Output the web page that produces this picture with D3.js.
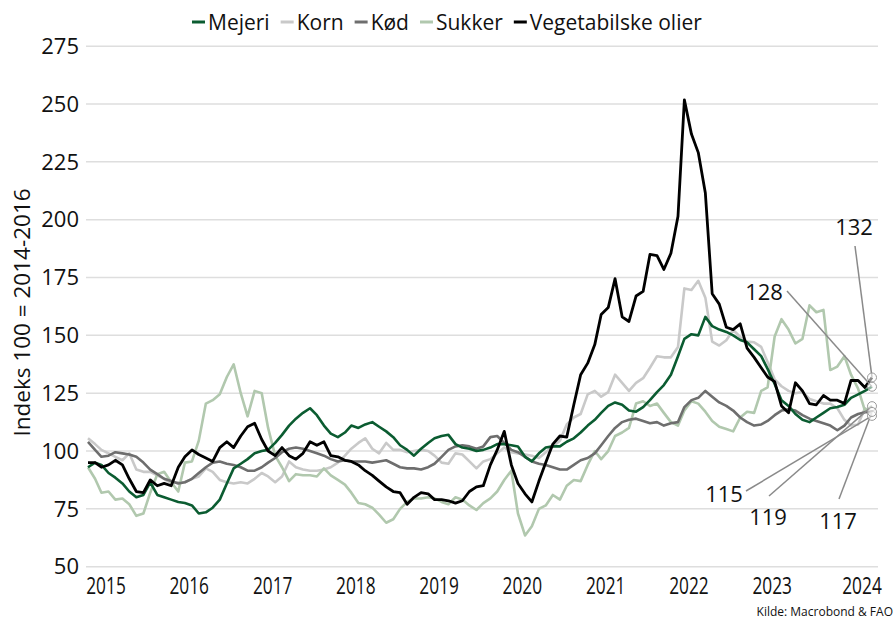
<!DOCTYPE html>
<html>
<head>
<meta charset="utf-8">
<script src="https://cdn.jsdelivr.net/npm/d3@7"></script>
<style>
  body { margin: 0; background: #fff; }
  svg text { font-family: "Open Sans", "Noto Sans", sans-serif; fill: #111; }
</style>
</head>
<body>
<div id="chart"></div>
<script>
// monthly FAO sub-indices, Jan 2015 - Jun 2024 (2014-2016 = 100)
var firstMonth = [2015, 0];
var seriesNames = ["Mejeri", "Korn", "Kød", "Sukker", "Vegetabilske olier"];

var mejeri = [
  93, 95, 94, 90.5, 88.5, 86, 82.5, 80, 81, 86.5, 81, 80,
  79, 78, 77.5, 76.5, 73, 73.5, 75.5, 79, 86, 92.5, 94.5, 96.5,
  99, 100, 100.5, 103.5, 107, 111, 114, 116.5, 118.5, 115.5, 111, 107.5,
  106, 108, 111, 110, 111.5, 112.5, 110.5, 108.5, 106, 102.5, 100.5, 98,
  101, 103.5, 105.5, 106.5, 107, 103, 101.5, 101, 100, 100.5, 101.5, 103,
  103, 102.5, 102, 97.5, 95.5, 99, 101.5, 102, 102, 104, 105.5, 108,
  111, 113.5, 116.5, 119.5, 121, 120, 117.5, 117, 119, 122, 125.5, 128.5,
  133, 141, 148.5, 150.5, 150, 158, 154, 152.5, 151.5, 150, 148, 147,
  144, 141, 135.5, 129, 122, 119.5, 116, 113.5, 112.5, 114.5, 116.5, 118.5,
  119, 120, 123, 124.5, 126, 127.8
];
var korn = [
  105.5, 103, 100.5, 99, 97.5, 96, 99, 92, 91, 91, 89.5, 88,
  86, 86.5, 86.5, 88, 89, 92.5, 91, 87.5, 86.5, 86, 86.5, 86,
  88, 90.5, 89, 86.5, 89, 95.5, 93, 92, 91.5, 91.5, 92, 93,
  95, 98, 101, 103.5, 105.5, 101, 99, 103.5, 100.5, 100.5, 99.5, 100,
  100.5, 100, 98, 95, 94.5, 99, 98.5, 95.5, 92.5, 95.5, 96.5, 99,
  101.5, 99.5, 99, 98.5, 98, 97, 99.5, 102, 104.5, 111.5, 114.5, 116,
  124.5, 126, 123.5, 125.5, 133, 129.5, 126, 129.5, 131.5, 136, 141, 140.5,
  140.5, 145, 170.3, 169.6, 173.6, 166.3, 147.3, 145.6, 147.9, 152.3, 149.3, 147.3,
  147, 145, 138.5, 131, 128, 126, 125, 125.5, 122.5, 121.5, 120.5, 120.5,
  118.5, 113.5, 111, 111.5, 118.5, 115.2
];
var kod = [
  104, 100.5, 97.5, 98, 99.5, 99, 98.5, 97.5, 95, 92, 90, 88,
  87, 86, 86.5, 88, 90.5, 93, 95, 95.5, 94.5, 94, 93, 91.5,
  91.5, 93, 95, 97, 99.5, 101, 101.5, 101, 100, 99, 98, 96.5,
  95.5, 96, 95.5, 95.5, 95.5, 95, 95.5, 96, 94.5, 93, 92.5, 92.5,
  92, 93, 94.5, 97.5, 100.5, 102, 102.5, 102, 101, 102, 106, 106.5,
  103.5, 100.5, 99.5, 97.5, 95.5, 94.5, 94, 93, 92, 92, 94, 96,
  97, 99, 102.5, 106.5, 110, 112.5, 113.5, 114, 113, 112, 112.5, 111,
  112, 112.5, 119, 122, 123, 126, 123.5, 121, 119.5, 117.5, 114.5, 112.5,
  111, 111.5, 113, 115.5, 117.5, 118, 117.5, 115.5, 114, 113, 112, 111,
  109, 111, 114.5, 116, 116.8, 116.9
];
var sukker = [
  93, 88, 82, 82.5, 79, 79.5, 77, 72, 73, 82, 90, 91,
  86.5, 82.5, 95, 95.5, 104.5, 120.5, 122, 124.5, 132, 137.5, 125, 115,
  126, 125, 110, 98, 93, 87, 90, 89.5, 89.5, 89, 92.5, 89.5,
  87.5, 85.5, 82, 77.5, 77, 75.5, 72.5, 69, 70.5, 75, 78, 79.5,
  79.5, 80, 79.5, 78, 77, 80, 79, 76.5, 74.5, 77.5, 79.5, 82.5,
  87.5, 91.5, 73, 63.5, 67.5, 75, 76.5, 81, 79, 85, 87.5, 87,
  94, 100, 96.5, 100, 106.5, 108, 110, 120.5, 121.5, 119.5, 120.5, 116.5,
  112.5, 111, 117.5, 121.5, 120.5, 117, 113, 110.5, 109.5, 108.5, 114.5, 117,
  116.5, 126, 127.5, 149.5, 157, 152.5, 146.5, 148.5, 163, 160, 161, 135,
  136.5, 141, 133, 127, 117.5, 119.4
];
var olie = [
  95, 95, 93, 94, 96, 94, 88, 82.5, 82, 87.5, 85, 86,
  85, 93, 97.5, 100.5, 98.5, 97, 95.5, 101.5, 104, 101.5, 106.5, 110.5,
  112, 105, 100, 98, 101.5, 98, 96.5, 99, 104, 102.5, 104, 98,
  97.5, 96, 95.5, 94, 91.5, 89.5, 87, 84.5, 82.5, 82, 77, 80,
  82, 81.5, 79, 79, 78.5, 77.5, 78.5, 82.5, 84.5, 85, 94, 100.5,
  108.5, 94, 86, 81.5, 78, 87, 95, 103, 106.5, 106, 120, 133,
  138, 146, 159, 162, 174.5, 158, 156, 167, 169, 185, 184.5, 178.5,
  185.5, 201.5, 251.8, 237, 229, 211.5, 168, 163.5, 153.5, 152.5, 155, 144.5,
  140.5, 136, 132, 130, 119.5, 116.5, 129.5, 126, 120.5, 120, 124, 122,
  122, 120.5, 130.5, 130.5, 127.5, 131.8
];

var yTicks = [50, 75, 100, 125, 150, 175, 200, 225, 250, 275];
var yTitle = "Indeks 100 = 2014-2016";
var source = "Kilde: Macrobond & FAO";

var colors = ["#0b5c31", "#c9c9c9", "#6e6e6e", "#b1c8ae", "#000000"];
var values = [mejeri, korn, kod, sukker, olie];

var width = 896, height = 620;
var months = values[0].map(function(d, i) {
  return new Date(Date.UTC(firstMonth[0], firstMonth[1] + i, 1));
});

var x = d3.scaleUtc()
    .domain(d3.extent(months))
    .range([88, 872]);
var y = d3.scaleLinear()
    .domain([50, 275])
    .range([566.7, 46.2]);

var svg = d3.select("#chart").append("svg")
    .attr("width", width)
    .attr("height", height);

// gridlines + y labels
var yAxis = svg.append("g").classed("yAxis", true);
yAxis.selectAll("line").data(yTicks).join("line")
    .attr("x1", 86).attr("x2", 878)
    .attr("y1", function(d) { return y(d); })
    .attr("y2", function(d) { return y(d); })
    .attr("stroke", "#dedede")
    .attr("stroke-width", 1.5);
yAxis.selectAll("text").data(yTicks).join("text")
    .attr("x", 79)
    .attr("y", function(d) { return y(d); })
    .attr("dy", "0.35em")
    .attr("text-anchor", "end")
    .style("font-size", "22px")
    .text(function(d) { return d; });

svg.append("text")
    .attr("transform", "translate(30," + ((y(50) + y(275)) / 2 + 6) + ") rotate(-90)")
    .attr("text-anchor", "middle")
    .style("font-size", "22.5px")
    .text(yTitle);

// year labels (narrow), centred just after each new year; a part year sits at the right edge
var start = x.domain()[0], end = x.domain()[1];
var years = d3.range(start.getUTCFullYear(), end.getUTCFullYear() + 1);
svg.append("g").selectAll("text").data(years).join("text")
    .attr("transform", function(yr) {
      var full = Date.UTC(yr, 11, 1) <= +end;
      var cx = full ? x(new Date(Date.UTC(yr, 0, 1))) + 18 : x(end) - 10;
      return "translate(" + cx + ",594) scale(0.72,1)";
    })
    .attr("text-anchor", "middle")
    .style("font-size", "24px")
    .text(function(d) { return d; });

// series
var line = d3.line()
    .x(function(d, i) { return x(months[i]); })
    .y(function(d) { return y(d); });

var drawOrder = [1, 3, 2, 0, 4];
svg.append("g").selectAll("path").data(drawOrder).join("path")
    .attr("d", function(k) { return line(values[k]); })
    .attr("fill", "none")
    .attr("stroke", function(k) { return colors[k]; })
    .attr("stroke-width", function(k) { return k == 4 ? 2.8 : 2.6; })
    .attr("stroke-linejoin", "round");

// legend
var legend = svg.append("g");
var lx = 192;
seriesNames.forEach(function(name, i) {
  legend.append("line")
      .attr("x1", lx).attr("x2", lx + 13)
      .attr("y1", 22).attr("y2", 22)
      .attr("stroke", colors[i])
      .attr("stroke-width", 3);
  var t = legend.append("text")
      .attr("x", lx + 16)
      .attr("y", 30)
      .style("font-size", "21px")
      .text(name);
  lx += 16 + t.node().getComputedTextLength() + 11;
});

// end-value callouts
var callouts = [
  {k: 4, tx: 854, ty: 235, sx: 855, sy: 246},
  {k: 0, tx: 764, ty: 300, sx: 787, sy: 291},
  {k: 1, tx: 724, ty: 502, sx: 746, sy: 491},
  {k: 3, tx: 768, ty: 525, sx: 769, sy: 496},
  {k: 2, tx: 838, ty: 529, sx: 839, sy: 499}
];
var last = months.length - 1;
var ann = svg.append("g");
ann.selectAll("line").data(callouts).join("line")
    .attr("x1", function(d) { return d.sx; })
    .attr("y1", function(d) { return d.sy; })
    .attr("x2", x(months[last]))
    .attr("y2", function(d) { return y(values[d.k][last]); })
    .attr("stroke", "#8a8a8a")
    .attr("stroke-width", 1.5);
ann.selectAll("circle").data(callouts).join("circle")
    .attr("cx", x(months[last]))
    .attr("cy", function(d) { return y(values[d.k][last]); })
    .attr("r", 4.5)
    .attr("fill", "#fff")
    .attr("fill-opacity", 0.55)
    .attr("stroke", "#9a9a9a")
    .attr("stroke-width", 1);
ann.selectAll("text").data(callouts).join("text")
    .attr("x", function(d) { return d.tx; })
    .attr("y", function(d) { return d.ty; })
    .attr("text-anchor", "middle")
    .style("font-size", "22px")
    .text(function(d) { return Math.round(values[d.k][last]); });

svg.append("text")
    .attr("x", 893)
    .attr("y", 616)
    .attr("text-anchor", "end")
    .style("font-size", "12px")
    .text(source);
</script>
</body>
</html>
